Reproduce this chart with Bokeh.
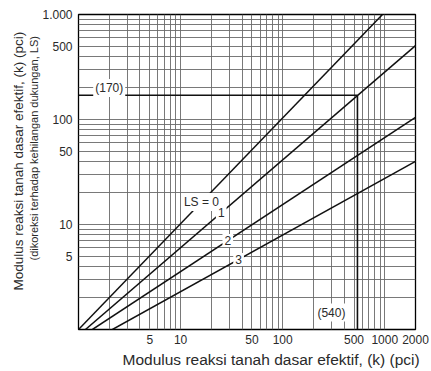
import numpy as np
from bokeh.plotting import figure
from bokeh.models import FixedTicker, Label, Title, Range1d, ColumnDataSource
from bokeh.embed import file_html
from bokeh.resources import INLINE

# ---- data ----
ls_names = ["LS = 0", "1", "2", "3"]
ls_x_start = [1.0, 1.17, 1.37, 2.15]
ls_y_start = [1.0, 1.0, 1.0, 1.0]
ls_x_end = [950.0, 2000.0, 2000.0, 2000.0]
ls_y_end = [1000.0, 505.0, 105.0, 40.0]
ls_label_x = [16.0, 25.0, 29.0, 37.0]

example_k = 540.0          # effective k (x)
example_k_corr = 170.0     # corrected k for LS = 1 (y)
example_texts = ["(170)", "(540)"]

x_ticks = [5, 10, 50, 100, 500, 1000, 2000]
x_tick_labels = ["5", "10", "50", "100", "500", "1000", "2000"]
y_ticks = [5, 10, 50, 100, 500, 1000]
y_tick_labels = ["5", "10", "50", "100", "500", "1.000"]

x_title = "Modulus reaksi tanah dasar efektif,  (k) (pci)"
y_title = "Modulus reaksi tanah dasar efektif,  (k) (pci)"
y_subtitle = "(dikoreksi terhadap kehilangan dukungan, LS)"

FONT = "Liberation Sans"
TXT = "#2a2a2a"
GRID = "#6a6a6a"

p = figure(width=431, height=371, x_axis_type="log", y_axis_type="log",
           x_range=Range1d(1, 2000), y_range=Range1d(1, 1000),
           output_backend="svg", toolbar_location=None,
           min_border_left=78, min_border_right=16,
           min_border_top=14, min_border_bottom=42)
p.outline_line_color = "black"
p.outline_line_width = 1.3
p.background_fill_color = "white"
p.border_fill_color = "white"

# grid: decades with 2..9 subdivisions
grid_x = [m * 10 ** e for e in range(3) for m in range(1, 10)] + [1000]
grid_y = [m * 10 ** e for e in range(3) for m in range(1, 10)] + [1000]
p.xgrid.ticker = FixedTicker(ticks=grid_x)
p.ygrid.ticker = FixedTicker(ticks=grid_y)
for g in (p.xgrid, p.ygrid):
    g.grid_line_color = GRID
    g.grid_line_width = 0.9
    g.grid_line_alpha = 1.0

# axes
p.xaxis.ticker = FixedTicker(ticks=x_ticks)
p.yaxis.ticker = FixedTicker(ticks=y_ticks)
p.xaxis.major_label_overrides = {t: l for t, l in zip(x_ticks, x_tick_labels)}
p.yaxis.major_label_overrides = {t: l for t, l in zip(y_ticks, y_tick_labels)}
for ax in (p.xaxis, p.yaxis):
    ax.major_tick_line_color = None
    ax.minor_tick_line_color = None
    ax.major_tick_out = 0
    ax.major_tick_in = 0
    ax.axis_line_color = None
    ax.major_label_text_font = FONT
    ax.major_label_text_font_size = "12px"
    ax.major_label_text_color = TXT
p.xaxis.major_label_standoff = 5
p.yaxis.major_label_standoff = 6

# axis titles as Title panels (allow offset along the frame)
sub_title = Title(text=y_subtitle, align="left", offset=69, text_font=FONT,
                  text_font_size="11px", text_font_style="normal",
                  text_color=TXT, standoff=0)
p.add_layout(sub_title, "left")
main_title = Title(text=y_title, align="left", offset=39, text_font=FONT,
                   text_font_size="13.5px", text_font_style="normal",
                   text_color=TXT, standoff=0)
p.add_layout(main_title, "left")
bottom_title = Title(text=x_title, align="left", offset=44, text_font=FONT,
                     text_font_size="15.5px", text_font_style="normal",
                     text_color=TXT, standoff=4)
p.add_layout(bottom_title, "below")

# LS lines
src = ColumnDataSource(dict(x0=ls_x_start, y0=ls_y_start, x1=ls_x_end, y1=ls_y_end))
p.segment("x0", "y0", "x1", "y1", source=src, line_color="#111111", line_width=1.5)

# worked example (k = 540, LS = 1 -> 170)
ex = ColumnDataSource(dict(x0=[p.x_range.start, example_k], y0=[example_k_corr, p.y_range.start],
                           x1=[example_k, example_k], y1=[example_k_corr, example_k_corr]))
p.segment("x0", "y0", "x1", "y1", source=ex, line_color="#111111", line_width=1.6)

# LS labels placed on their lines (log-space interpolation)
for name, xs, ys, xe, ye, lx in zip(ls_names, ls_x_start, ls_y_start, ls_x_end, ls_y_end, ls_label_x):
    t = (np.log10(lx) - np.log10(xs)) / (np.log10(xe) - np.log10(xs))
    ly = 10 ** (np.log10(ys) + t * (np.log10(ye) - np.log10(ys)))
    p.add_layout(Label(x=lx, y=ly, text=name, text_align="center", text_baseline="middle",
                       text_font=FONT, text_font_size="12px", text_color=TXT,
                       background_fill_color="white", padding=2))

p.add_layout(Label(x=2.0, y=200, text=example_texts[0], text_align="center",
                   text_baseline="middle", text_font=FONT, text_font_size="12px",
                   text_color=TXT, background_fill_color="white", padding=2))
p.add_layout(Label(x=300, y=1.45, text=example_texts[1], text_align="center",
                   text_baseline="middle", text_font=FONT, text_font_size="12px",
                   text_color=TXT, background_fill_color="white", padding=2))

open("out.html", "w").write(file_html(p, INLINE))
